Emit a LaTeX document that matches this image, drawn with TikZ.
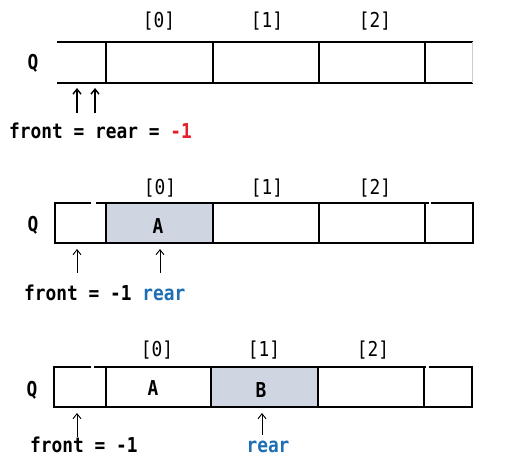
\documentclass[tikz,border=0pt]{standalone}
\usepackage{fontspec}
\newfontfamily\qfont[FakeStretch=0.87]{DejaVu Sans Mono}
\usetikzlibrary{arrows.meta}
\definecolor{cellfill}{RGB}{208,214,225}
\definecolor{rearblue}{RGB}{30,110,180}
\definecolor{minusred}{RGB}{230,30,40}
\tikzset{
  qline/.style={line width=2.4pt, line cap=rect},
  txt/.style={font=\qfont\bfseries\fontsize{20.5}{24}\selectfont, inner sep=0pt},
  idx/.style={font=\qfont\fontsize{20.5}{24}\selectfont, inner sep=0pt},
  ptrthick/.style={line width=1.6pt, -{Straight Barb[length=5pt,width=8pt,line width=1.4pt]}},
  ptrthin/.style={line width=0.9pt, -{Straight Barb[length=5pt,width=8pt,line width=0.9pt]}},
}
\begin{document}
\begin{tikzpicture}[x=1pt,y=-1pt]
\useasboundingbox (0,0) rectangle (508,463);
% ---------- panel 1 ----------
\draw[qline] (58,42) -- (472,42);
\draw[qline] (58,83) -- (472,83);
\foreach \x in {106,213,319,425} \draw[qline] (\x,42) -- (\x,83);
\draw[line width=0.6pt, black!20] (472,42) -- (472,83);
\node[txt] (q1) at (33,63) {Q};
\node[idx] (i10) at (159,21) {[0]};
\node[idx] (i11) at (267,21) {[1]};
\node[idx] (i12) at (375,21) {[2]};
\node[txt, anchor=base west] (t1) at (9,138) {front = rear = \textcolor{minusred}{-1}};
\coordinate (a1s) at (77,113); \coordinate (a1e) at (77,88);
\coordinate (a2s) at (95,113); \coordinate (a2e) at (95,88);
\draw[ptrthick] (a1s) -- (a1e);
\draw[ptrthick] (a2s) -- (a2e);
% ---------- panel 2 ----------
\fill[cellfill] (106,203) rectangle (213,243);
\draw[qline] (90,203) -- (55,203) -- (55,243) -- (473,243) -- (473,203) -- (432,203);
\draw[qline] (97,203) -- (428,203);
\foreach \x in {106,213,319,425} \draw[qline] (\x,203) -- (\x,243);
\node[txt] (q2) at (33,225) {Q};
\node[txt] (a2) at (158,226) {A};
\node[idx] (i20) at (160,188) {[0]};
\node[idx] (i21) at (267,188) {[1]};
\node[idx] (i22) at (375,188) {[2]};
\node[txt, anchor=base west] (t2) at (24,300) {front = -1 \textcolor{rearblue}{rear}};
\coordinate (b1s) at (77,273); \coordinate (b1e) at (77,249);
\coordinate (b2s) at (160,273); \coordinate (b2e) at (160,249);
\draw[ptrthin] (b1s) -- (b1e);
\draw[ptrthin] (b2s) -- (b2e);
% ---------- panel 3 ----------
\fill[cellfill] (211,367) rectangle (318,407);
\draw[qline] (90,367) -- (54,367) -- (54,407) -- (472,407) -- (472,367) -- (430,367);
\draw[qline] (95,367) -- (425,367);
\foreach \x in {106,211,318,424} \draw[qline] (\x,367) -- (\x,407);
\node[txt] (q3) at (32,390) {Q};
\node[txt] (a3) at (153,388) {A};
\node[txt] (b3) at (261,390) {B};
\node[idx] (i30) at (157,350) {[0]};
\node[idx] (i31) at (264,350) {[1]};
\node[idx] (i32) at (373,350) {[2]};
\node[txt, anchor=base west] (t3) at (30,452) {front = -1};
\node[txt, anchor=base, text=rearblue] (r3) at (268,452) {rear};
\coordinate (c1s) at (77,437); \coordinate (c1e) at (77,413);
\coordinate (c2s) at (262,435); \coordinate (c2e) at (262,413);
\draw[ptrthin] (c1s) -- (c1e);
\draw[ptrthin] (c2s) -- (c2e);
\end{tikzpicture}
\end{document}
